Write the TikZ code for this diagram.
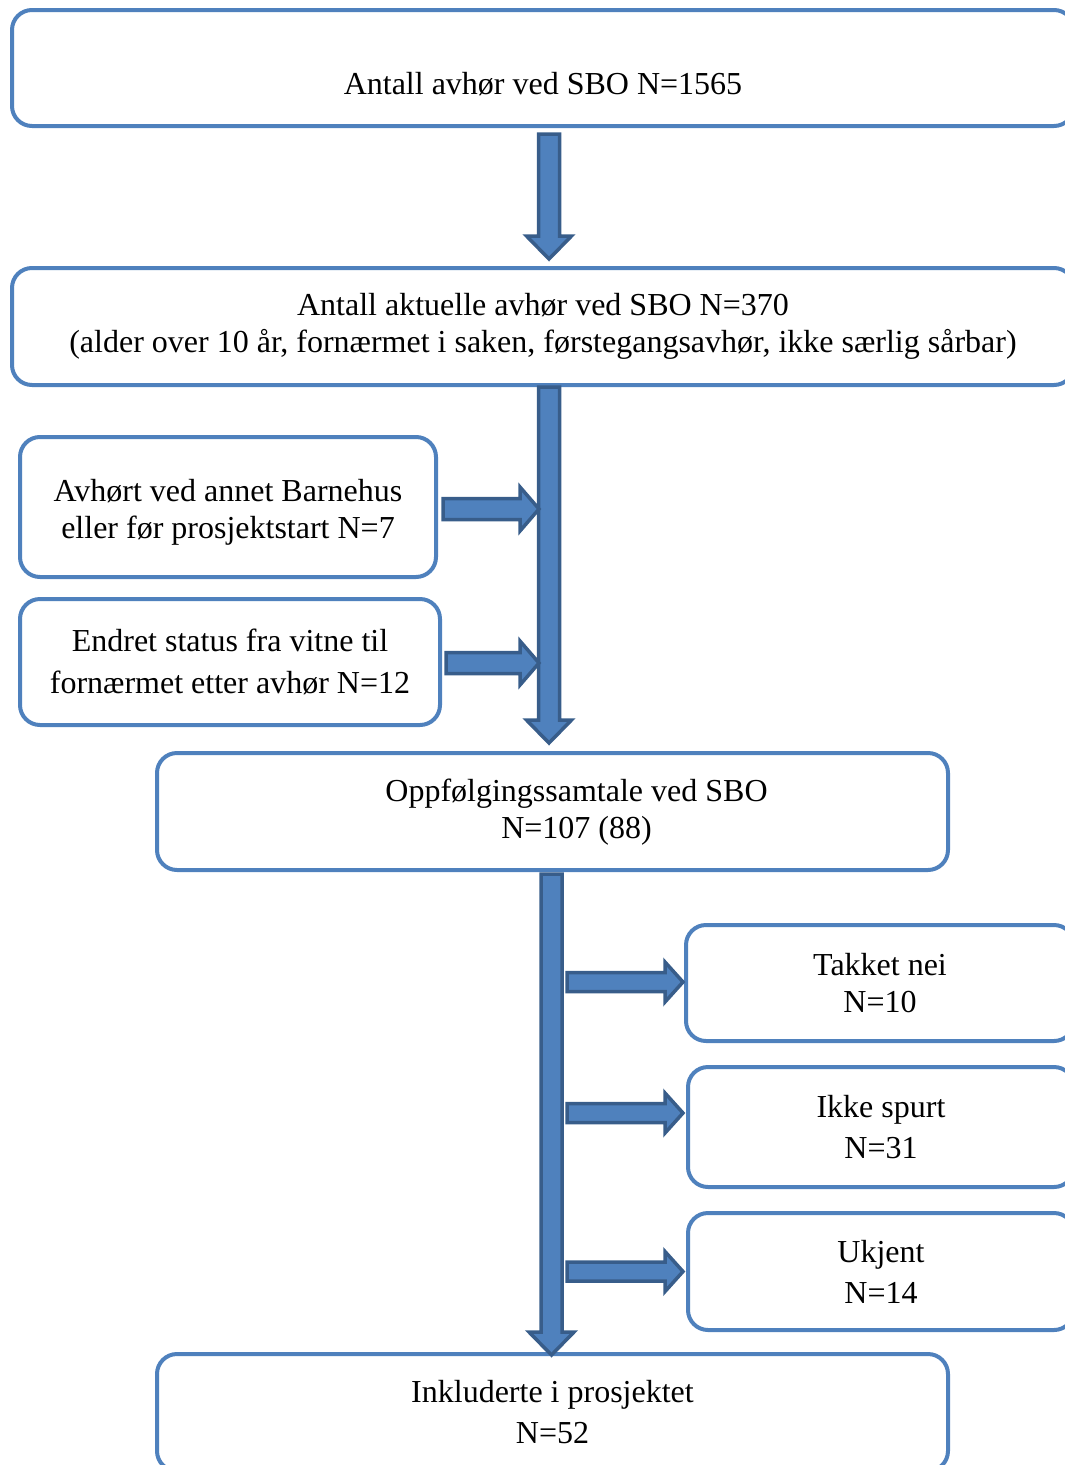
\documentclass[tikz,border=0pt]{standalone}
\usepackage{fontspec}
\setmainfont{Liberation Serif}
\usetikzlibrary{calc}
\definecolor{boxblue}{HTML}{4F81BD}
\definecolor{arrdark}{HTML}{385D8A}
\tikzset{
  box/.style={draw=boxblue, line width=4pt, rounded corners=20pt, fill=white,
    align=center, inner sep=0pt, font=\fontsize{32}{37}\selectfont},
  txt/.style={align=center, inner sep=0pt, font=\fontsize{32}{37}\selectfont},
  blockarr/.style={fill=boxblue, draw=arrdark, line width=3.5pt, line join=miter},
}
% vertical block arrow: #1 start (shaft top centre), #2 tip
\newcommand\vblock[2]{%
  \draw[blockarr] ($(#1)+(-10.5,0)$) -- ($(#2)+(-10.5,-23)$) -- ($(#2)+(-22.5,-23)$) -- (#2)
    -- ($(#2)+(22.5,-23)$) -- ($(#2)+(10.5,-23)$) -- ($(#1)+(10.5,0)$) -- cycle;}
% horizontal block arrow: #1 start, #2 tip, #3 shaft half height, #4 head half height, #5 head length
\newcommand\hblock[5]{%
  \draw[blockarr] ($(#1)+(0,-#3)$) -- ($(#2)+(-#5,-#3)$) -- ($(#2)+(-#5,-#4)$) -- (#2)
    -- ($(#2)+(-#5,#4)$) -- ($(#2)+(-#5,#3)$) -- ($(#1)+(0,#3)$) -- cycle;}
\begin{document}
\begin{tikzpicture}[x=1pt,y=-1pt]
\useasboundingbox (0,0) rectangle (1065,1465);
\clip (0,0) rectangle (1065,1465);

\node[box, minimum width=1062pt, minimum height=116pt] (b1) at (543,68) {};
\node[txt] (t1) at (543,84) {Antall avhør ved SBO N=1565};

\node[box, minimum width=1062pt, minimum height=117pt] (b2) at (543,326.5)
  {Antall aktuelle avhør ved SBO N=370\\(alder over 10 år, fornærmet i saken, førstegangsavhør, ikke særlig sårbar)};

\node[box, minimum width=416pt, minimum height=140pt] (b3) at (228,507) {};
\node[txt] (t3) at (228,512) {Avhørt ved annet Barnehus\\eller før prosjektstart N=7};

\node[box, minimum width=420pt, minimum height=126pt] (b4) at (230,662)
  {Endret status fra vitne til\\[5pt]fornærmet etter avhør N=12};

\node[box, minimum width=791pt, minimum height=117pt] (b5) at (552.5,811.5) {};
\node[txt] (t5) at (576.5,812.5) {Oppfølgingssamtale ved SBO\\N=107 (88)};

\node[box, minimum width=388pt, minimum height=116pt] (b6) at (880,983)
  {Takket nei\\N=10};

\node[box, minimum width=386pt, minimum height=120pt] (b7) at (881,1127)
  {Ikke spurt\\[4pt]N=31};

\node[box, minimum width=386pt, minimum height=117pt] (b8) at (881,1271.5)
  {Ukjent\\[4pt]N=14};

\node[box, minimum width=791pt, minimum height=117pt] (b9) at (552.5,1412.5)
  {Inkluderte i prosjektet\\[4pt]N=52};

% connector end points tied to the boxes
\coordinate (v1s) at ($(b1.south)+(6,6)$);
\coordinate (v1e) at ($(b2.north)+(6,-7)$);
\coordinate (v2s) at ($(b2.south)+(6,0)$);
\coordinate (v2e) at ($(b5.north)+(-3.5,-8)$);
\coordinate (v3s) at ($(b5.south)+(-1,2)$);
\coordinate (v3e) at ($(b9.north)+(-1,3)$);

\coordinate (h1s) at ($(b3.east)+(5,2)$);
\coordinate (h1e) at ($(v2s |- h1s)+(-10,0)$);
\coordinate (h2s) at ($(b4.east)+(4,1)$);
\coordinate (h2e) at ($(v2s |- h2s)+(-10,0)$);

\coordinate (h3e) at ($(b6.west)+(-1,-1)$);
\coordinate (h3s) at ($(v3s |- h3e)+(15.5,0)$);
\coordinate (h4e) at ($(b7.west)+(-3,-14)$);
\coordinate (h4s) at ($(v3s |- h4e)+(15.5,0)$);
\coordinate (h5e) at ($(b8.west)+(-3,0)$);
\coordinate (h5s) at ($(v3s |- h5e)+(15.5,0)$);

\vblock{v1s}{v1e}
\vblock{v2s}{v2e}
\vblock{v3s}{v3e}
\hblock{h1s}{h1e}{10.5}{22}{19}
\hblock{h2s}{h2e}{10.5}{22}{19}
\hblock{h3s}{h3e}{9.5}{20}{18}
\hblock{h4s}{h4e}{9.5}{20}{18}
\hblock{h5s}{h5e}{9.5}{20}{18}
\end{tikzpicture}
\end{document}
